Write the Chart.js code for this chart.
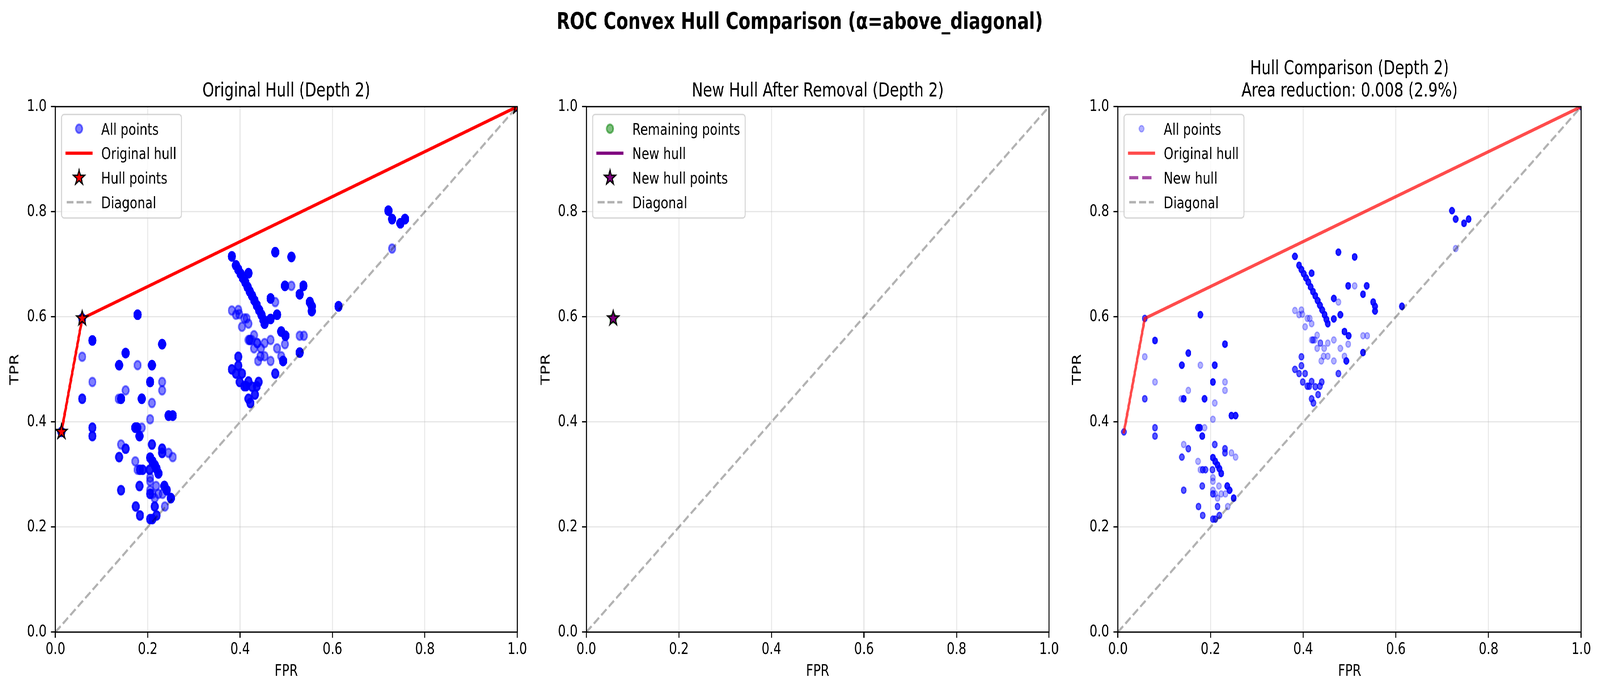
<!DOCTYPE html>
<html>
<head>
<meta charset="utf-8">
<title>ROC Convex Hull Comparison</title>
<script src="https://cdn.jsdelivr.net/npm/chart.js@4.4.1/dist/chart.umd.min.js"></script>
<style>
  html, body { margin: 0; padding: 0; background: #fff; overflow: hidden; }
  #fig { position: relative; width: 5370px; height: 1779px; overflow: hidden; transform-origin: 0 0; }
  #fig canvas { position: absolute; top: 0; }
</style>
</head>
<body>
<div id="fig">
  <canvas id="p1"></canvas>
  <canvas id="p2"></canvas>
  <canvas id="p3"></canvas>
</div>
<script>
// ROC points (FPR, TPR); reps = how many times a point occurs in the data
const fpr = [
  0.013, 0.058, 0.080, 0.058, 0.080, 0.058, 0.080, 0.080, 0.178, 0.152,
  0.138, 0.178, 0.209, 0.231, 0.205, 0.231, 0.231, 0.152, 0.137, 0.142,
  0.187, 0.209, 0.205, 0.245, 0.254, 0.173, 0.177, 0.187, 0.182, 0.142,
  0.152, 0.138, 0.209, 0.231, 0.231, 0.245, 0.254, 0.173, 0.205, 0.210,
  0.215, 0.219, 0.223, 0.178, 0.183, 0.189, 0.204, 0.205, 0.205, 0.218,
  0.182, 0.236, 0.241, 0.142, 0.205, 0.210, 0.223, 0.232, 0.205, 0.250,
  0.215, 0.237, 0.215, 0.174, 0.183, 0.219, 0.205, 0.210,
  0.382, 0.476, 0.511, 0.391, 0.396, 0.401, 0.406, 0.411, 0.416, 0.421,
  0.426, 0.431, 0.436, 0.441, 0.446, 0.450, 0.453, 0.418, 0.497, 0.511,
  0.537, 0.529, 0.551, 0.555, 0.555, 0.466, 0.476, 0.480, 0.466, 0.613,
  0.382, 0.396, 0.391, 0.398, 0.409, 0.414, 0.418, 0.404, 0.489, 0.498,
  0.497, 0.529, 0.538, 0.529, 0.418, 0.421, 0.425, 0.430, 0.437, 0.430,
  0.453, 0.445, 0.466, 0.480, 0.489, 0.453, 0.444, 0.439, 0.466, 0.493,
  0.476, 0.396, 0.396, 0.382, 0.391, 0.404, 0.399, 0.418, 0.440, 0.409,
  0.413, 0.436, 0.426, 0.432, 0.418, 0.422,
  0.721, 0.729, 0.747, 0.757, 0.729, 1.000
];
const tpr = [
  0.381, 0.597, 0.555, 0.524, 0.476, 0.444, 0.389, 0.373, 0.604, 0.531,
  0.508, 0.508, 0.508, 0.548, 0.476, 0.476, 0.460, 0.460, 0.444, 0.444,
  0.444, 0.436, 0.405, 0.412, 0.412, 0.389, 0.389, 0.389, 0.373, 0.357,
  0.349, 0.333, 0.357, 0.349, 0.341, 0.341, 0.333, 0.325, 0.332, 0.325,
  0.318, 0.311, 0.302, 0.309, 0.309, 0.309, 0.309, 0.294, 0.287, 0.278,
  0.278, 0.278, 0.270, 0.270, 0.270, 0.263, 0.263, 0.263, 0.263, 0.255,
  0.255, 0.239, 0.239, 0.239, 0.222, 0.222, 0.215, 0.215,
  0.715, 0.723, 0.714, 0.698, 0.690, 0.682, 0.674, 0.666, 0.657, 0.648,
  0.640, 0.631, 0.622, 0.613, 0.604, 0.595, 0.587, 0.683, 0.659, 0.659,
  0.659, 0.643, 0.628, 0.620, 0.611, 0.635, 0.628, 0.604, 0.596, 0.620,
  0.612, 0.613, 0.604, 0.605, 0.597, 0.597, 0.587, 0.581, 0.572, 0.564,
  0.548, 0.564, 0.564, 0.532, 0.556, 0.556, 0.556, 0.565, 0.550, 0.540,
  0.550, 0.540, 0.556, 0.540, 0.525, 0.525, 0.525, 0.516, 0.516, 0.516,
  0.492, 0.524, 0.507, 0.500, 0.492, 0.492, 0.476, 0.477, 0.476, 0.468,
  0.468, 0.468, 0.467, 0.452, 0.444, 0.436,
  0.802, 0.786, 0.778, 0.786, 0.730, 1.000
];
const reps = [
  3, 3, 6, 1, 1, 3, 3, 3, 6, 6,
  6, 1, 6, 6, 6, 1, 1, 1, 1, 6,
  6, 1, 1, 6, 6, 6, 6, 1, 6, 1,
  3, 3, 3, 3, 3, 1, 1, 1, 6, 6,
  6, 6, 6, 1, 3, 3, 3, 1, 1, 1,
  3, 6, 6, 3, 1, 1, 1, 1, 3, 6,
  1, 1, 3, 3, 3, 3, 3, 3,
  6, 6, 6, 6, 6, 6, 6, 6, 6, 6,
  6, 6, 6, 6, 6, 6, 6, 6, 6, 1,
  6, 6, 6, 6, 6, 6, 1, 6, 6, 6,
  1, 1, 1, 1, 1, 1, 1, 1, 6, 6,
  1, 1, 1, 6, 1, 2, 1, 1, 2, 1,
  1, 1, 1, 1, 1, 1, 1, 1, 1, 6,
  3, 3, 3, 3, 3, 3, 3, 3, 3, 3,
  3, 3, 3, 3, 3, 3,
  6, 6, 6, 6, 1, 3
];

const hullFpr = [0.013, 0.058, 1.0];
const hullTpr = [0.381, 0.597, 1.0];

const remainFpr = [0.058];
const remainTpr = [0.597];
const newHullFpr = [0.058];
const newHullTpr = [0.597];

const diagFpr = [0, 1];
const diagTpr = [0, 1];

const axisTicks = [0, 0.2, 0.4, 0.6, 0.8, 1.0];

const areaReduction = 0.008;
const areaReductionPct = 2.9;

// ---- styling helpers (matplotlib at 300 dpi) ----
const FIG_W = 5370, H = 1779;
const PT = 300 / 72;
const FONT = "'DejaVu Sans', sans-serif";
const FS = 10 * PT;
const PLOT_TOP = 273, PLOT_BOTTOM = 1618, Y_AXIS_W = 186, PAD_R = 60;

// the layout is in figure pixels; stretch the whole figure over the viewport
const fig = document.getElementById('fig');
fig.style.transform = 'scale(' + (window.innerWidth / FIG_W) + ',' + (window.innerHeight / H) + ')';

function xy(xs, ys) { return xs.map((x, i) => ({ x: x, y: ys[i] })); }
function repeated(xs, ys, n) {
  const out = [];
  xs.forEach((x, i) => { for (let k = 0; k < n[i]; k++) out.push({ x: x, y: ys[i] }); });
  return out;
}

function starImage(fill, R, lw) {
  const c = document.createElement('canvas');
  const s = Math.ceil(2 * R + 2 * lw + 4);
  c.width = s; c.height = s;
  const g = c.getContext('2d');
  g.translate(s / 2, s / 2);
  g.beginPath();
  for (let i = 0; i < 10; i++) {
    const r = i % 2 ? R * 0.381966 : R;
    const a = -Math.PI / 2 + i * Math.PI / 5;
    g.lineTo(r * Math.cos(a), r * Math.sin(a));
  }
  g.closePath();
  g.fillStyle = fill;
  g.fill();
  g.lineJoin = 'miter';
  g.lineWidth = lw;
  g.strokeStyle = '#000';
  g.stroke();
  return c;
}

function axis(title, isX) {
  return {
    type: 'linear', min: 0, max: 1,
    afterBuildTicks: s => { s.ticks = axisTicks.map(v => ({ value: v })); },
    afterFit: s => { if (isX) s.height = H - PLOT_BOTTOM; else s.width = Y_AXIS_W; },
    grid: {
      color: 'rgba(176,176,176,0.3)', lineWidth: 0.8 * PT,
      tickColor: '#000', tickWidth: 0.8 * PT, tickLength: 3.5 * PT, drawTicks: true
    },
    border: { display: false },
    ticks: {
      color: '#000', font: { family: FONT, size: FS },
      padding: isX ? 6 : 3.5 * PT, maxRotation: 0, autoSkip: false,
      callback: v => Number(v).toFixed(1)
    },
    title: {
      display: true, text: title, color: '#000', font: { family: FONT, size: FS },
      padding: isX ? { top: 0, bottom: 35 } : { top: 26, bottom: 0 }
    }
  };
}

// spines + legend inside the axes, drawn on top of the data
const frameAndLegend = {
  id: 'frameAndLegend',
  afterDatasetsDraw(chart) {
    const ca = chart.chartArea, ctx = chart.ctx;
    ctx.save();
    ctx.strokeStyle = '#000';
    ctx.lineWidth = 0.8 * PT;
    ctx.strokeRect(ca.left, ca.top, ca.right - ca.left, ca.bottom - ca.top);

    const items = chart.data.datasets;
    ctx.font = FS + 'px ' + FONT;
    const textW = Math.max(...items.map(d => ctx.measureText(d.label).width));
    const left = ca.left + 0.5 * FS, top = ca.top + 20;
    const w = 133 + textW + 17, h = 265, rr = 0.2 * FS;
    ctx.beginPath();
    ctx.roundRect(left, top, w, h, rr);
    ctx.fillStyle = 'rgba(255,255,255,0.8)';
    ctx.fill();
    ctx.strokeStyle = 'rgba(204,204,204,0.8)';
    ctx.lineWidth = 3.5;
    ctx.stroke();

    items.forEach((d, i) => {
      const cy = top + 36.5 + i * 62.7;
      const x0 = left + 17, x1 = left + 100, cx = (x0 + x1) / 2;
      ctx.save();
      if (d.showLine) {
        ctx.beginPath();
        ctx.moveTo(x0, cy);
        ctx.lineTo(x1, cy);
        ctx.strokeStyle = d.borderColor;
        ctx.lineWidth = d.borderWidth;
        ctx.setLineDash(d.borderDash || []);
        ctx.lineCap = d.borderCapStyle || 'butt';
        ctx.stroke();
      } else if (d.pointStyle instanceof HTMLCanvasElement) {
        ctx.drawImage(d.pointStyle, cx - d.pointStyle.width / 2, cy - d.pointStyle.height / 2);
      } else {
        ctx.beginPath();
        ctx.arc(cx, cy, d.pointRadius, 0, Math.PI * 2);
        ctx.fillStyle = d.pointBackgroundColor;
        ctx.fill();
        ctx.strokeStyle = d.pointBorderColor;
        ctx.lineWidth = d.pointBorderWidth;
        ctx.stroke();
      }
      ctx.restore();
      ctx.fillStyle = '#000';
      ctx.textAlign = 'left';
      ctx.textBaseline = 'alphabetic';
      ctx.fillText(d.label, left + 133, cy + 15);
    });
    ctx.restore();
  }
};

function titlePlugin(lines, supX) {
  return {
    id: 'panelTitle',
    afterDraw(chart) {
      const ca = chart.chartArea, ctx = chart.ctx;
      ctx.save();
      ctx.fillStyle = '#000';
      ctx.textAlign = 'center';
      ctx.textBaseline = 'alphabetic';
      ctx.font = (12 * PT) + 'px ' + FONT;
      const cx = (ca.left + ca.right) / 2;
      lines.forEach((t, i) => {
        ctx.fillText(t, cx, 247 - (lines.length - 1 - i) * 57);
      });
      if (supX !== undefined) {
        ctx.font = 'bold ' + (14 * PT) + 'px ' + FONT;
        ctx.fillText('ROC Convex Hull Comparison (α=above_diagonal)', supX, 74);
      }
      ctx.restore();
    }
  };
}

function pointSet(label, data, color, radius, bw, order) {
  return {
    label: label, data: data, order: order, clip: 0,
    pointRadius: radius, pointHoverRadius: radius, pointBorderWidth: bw,
    pointBackgroundColor: color, pointBorderColor: color
  };
}
function lineSet(label, data, color, width, dash, cap, order) {
  return {
    label: label, data: data, order: order, clip: 0, showLine: true,
    borderColor: color, borderWidth: width, borderDash: dash,
    borderCapStyle: cap, borderJoinStyle: 'round', pointRadius: 0, pointHoverRadius: 0
  };
}
function starSet(label, data, img, order) {
  return {
    label: label, data: data, order: order, clip: 0,
    pointStyle: img, pointRadius: 20, pointHoverRadius: 20
  };
}

function makePanel(id, plotLeft, plotWidth, datasets, titleLines, supX) {
  const cv = document.getElementById(id);
  const canvasLeft = plotLeft - Y_AXIS_W;
  const w = Y_AXIS_W + plotWidth + PAD_R;
  cv.width = w;
  cv.height = H;
  cv.style.left = canvasLeft + 'px';
  cv.style.width = w + 'px';
  cv.style.height = H + 'px';
  new Chart(cv.getContext('2d'), {
    type: 'scatter',
    data: { datasets: datasets },
    options: {
      responsive: false, animation: false, devicePixelRatio: 1, events: [],
      layout: { padding: { top: PLOT_TOP, right: PAD_R, bottom: 0, left: 0 } },
      plugins: { legend: { display: false }, tooltip: { enabled: false } },
      scales: { x: axis('FPR', true), y: axis('TPR', false) }
    },
    plugins: [frameAndLegend, titlePlugin(titleLines, supX === undefined ? undefined : supX - canvasLeft)]
  });
}

Chart.defaults.font.family = FONT;

const diag = () => lineSet('Diagonal', xy(diagFpr, diagTpr), 'rgba(0,0,0,0.3)', 1.5 * PT, [3.7 * 1.5 * PT, 1.6 * 1.5 * PT], 'butt', 1);

makePanel('p1', 186, 1550, [
  pointSet('All points', repeated(fpr, tpr, reps), 'rgba(0,0,255,0.5)', 11, 5, 4),
  lineSet('Original hull', xy(hullFpr, hullTpr), '#ff0000', 2 * PT, [], 'square', 3),
  starSet('Hull points', xy(hullFpr, hullTpr), starImage('#ff0000', 20, 3.5), 2),
  diag()
], ['Original Hull (Depth 2)']);

makePanel('p2', 1968, 1553, [
  pointSet('Remaining points', xy(remainFpr, remainTpr), 'rgba(0,128,0,0.5)', 11, 5, 4),
  lineSet('New hull', xy(newHullFpr, newHullTpr), '#800080', 2 * PT, [], 'square', 3),
  starSet('New hull points', xy(newHullFpr, newHullTpr), starImage('#800080', 20, 3.5), 2),
  diag()
], ['New Hull After Removal (Depth 2)'], 2684);

makePanel('p3', 3752, 1555, [
  pointSet('All points', repeated(fpr, tpr, reps), 'rgba(0,0,255,0.3)', 8, 3.5, 4),
  lineSet('Original hull', xy(hullFpr, hullTpr), 'rgba(255,0,0,0.7)', 2 * PT, [], 'square', 3),
  lineSet('New hull', xy(newHullFpr, newHullTpr), 'rgba(128,0,128,0.7)', 2 * PT, [3.7 * 2 * PT, 1.6 * 2 * PT], 'butt', 2),
  diag()
], ['Hull Comparison (Depth 2)',
    'Area reduction: ' + areaReduction.toFixed(3) + ' (' + areaReductionPct.toFixed(1) + '%)']);
</script>
</body>
</html>
